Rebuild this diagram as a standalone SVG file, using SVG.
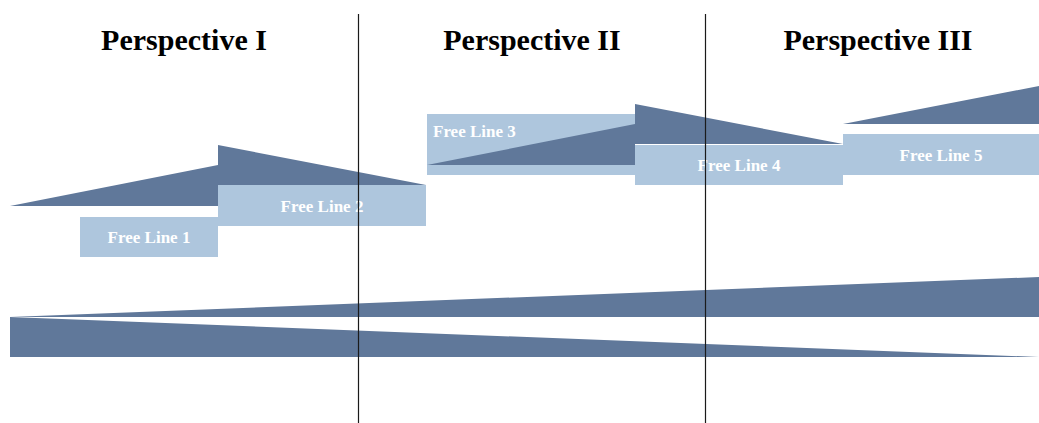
<svg xmlns="http://www.w3.org/2000/svg" width="1039" height="423" viewBox="0 0 1039 423">
<style>
.dark{fill:#60789a}
.light{fill:#aec6dd}
.lbl{font-family:"Liberation Serif",serif;font-weight:bold;font-size:17px;fill:#ffffff}
.title{font-family:"Liberation Serif",serif;font-weight:bold;font-size:30px;fill:#000000;text-anchor:middle}
.div{stroke:#1a1a1a;stroke-width:1.2}
</style>
<rect width="1039" height="423" fill="#ffffff"/>
<g id="titles">
<text class="title" x="184" y="50">Perspective I</text>
<text class="title" x="532" y="50">Perspective II</text>
<text class="title" x="878" y="50">Perspective III</text>
</g>
<g id="bottom-wedges">
<polygon class="dark" points="10,317 1039,277 1039,317"/>
<polygon class="dark" points="10,317 1039,357 10,357"/>
</g>
<g id="free-line-1">
<polygon class="dark" points="10,206 218,165 218,206"/>
<rect class="light" x="80" y="217" width="138" height="40"/>
<text class="lbl" x="149" y="243" text-anchor="middle">Free Line 1</text>
</g>
<g id="free-line-2">
<polygon class="dark" points="218,145 426,185 218,185"/>
<rect class="light" x="218" y="185" width="208" height="41"/>
<text class="lbl" x="322" y="212" text-anchor="middle">Free Line 2</text>
</g>
<g id="free-line-3">
<rect class="light" x="427" y="114" width="208" height="61"/>
<polygon class="dark" points="427,165 635,124 635,165"/>
<text class="lbl" x="433" y="137">Free Line 3</text>
</g>
<g id="free-line-4">
<polygon class="dark" points="635,104 843,144 635,144"/>
<rect class="light" x="635" y="145" width="208" height="40"/>
<text class="lbl" x="739" y="171" text-anchor="middle">Free Line 4</text>
</g>
<g id="free-line-5">
<polygon class="dark" points="843,124 1039,86 1039,124"/>
<rect class="light" x="843" y="134" width="196" height="41"/>
<text class="lbl" x="941" y="161" text-anchor="middle">Free Line 5</text>
</g>
<g id="connectors">
<line class="div" x1="358.5" y1="14" x2="358.5" y2="423"/>
<line class="div" x1="705.5" y1="14" x2="705.5" y2="423"/>
</g>
</svg>
